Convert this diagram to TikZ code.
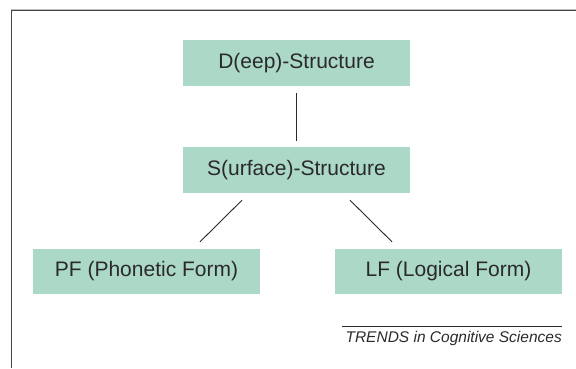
\documentclass[tikz,border=0pt]{standalone}
\usepackage{fontspec}
\setmainfont{Liberation Sans}
\usetikzlibrary{calc}
\definecolor{boxfill}{HTML}{ACD8C8}
\definecolor{txt}{HTML}{2A2A2A}
\definecolor{framecol}{HTML}{444444}
\tikzset{
  levelbox/.style={fill=boxfill, draw=none, minimum width=227pt, minimum height=46pt,
    inner sep=0pt, text=txt, font=\fontsize{21}{24}\selectfont},
  link/.style={draw=txt, line width=0.9pt},
  framestyle/.style={draw=framecol, line width=1.2pt}
}
\begin{document}
\begin{tikzpicture}[x=1pt,y=-1pt]
\useasboundingbox (0,0) rectangle (576,368);
\draw[draw=black!25, line width=0.6pt] (11,8.8) -- (576,8.8);
\draw[framestyle] (11.5,368) -- (11.5,10.2) -- (576,10.2);
\node[levelbox] (D) at (296.5,63) {D(eep)-Structure};
\node[levelbox] (S) at (296.5,170) {S(urface)-Structure};
\node[levelbox, minimum height=45pt] (PF) at (146.5,271.5) {PF (Phonetic Form)};
\node[levelbox, minimum height=45pt] (LF) at (448.5,271.5) {LF (Logical Form)};
\coordinate (sl) at ($(S.south)+(-54.5,7)$);
\coordinate (pl) at ($(PF.north)+(53.5,-7)$);
\coordinate (sr) at ($(S.south)+(53.5,7)$);
\coordinate (lr) at ($(LF.north)+(-56.5,-7)$);
\draw[link, shorten <=7pt, shorten >=6pt] (D.south) -- (S.north);
\draw[link] (sl) -- (pl);
\draw[link] (sr) -- (lr);
\coordinate (ta) at (342,326);
\coordinate (tb) at (562,326);
\draw[draw=txt, line width=0.8pt] (ta) -- (tb);
\node[anchor=base east, inner sep=0pt, text=txt, font=\fontsize{15.5}{18}\selectfont\itshape] (trends) at (562,342) {TRENDS in Cognitive Sciences};
\end{tikzpicture}
\end{document}
